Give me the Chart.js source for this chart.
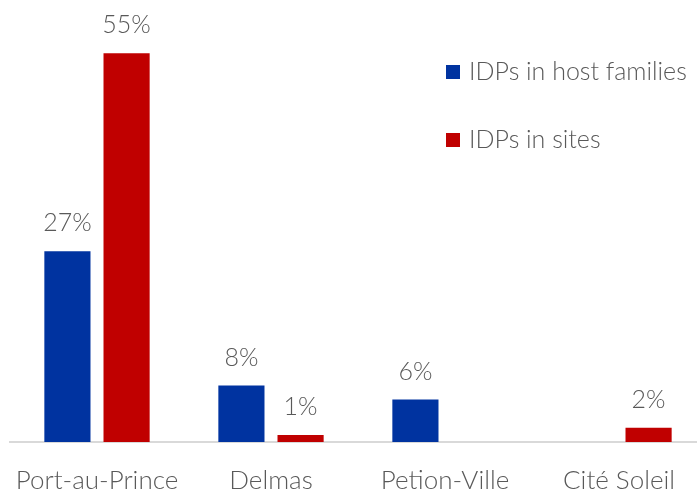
<!DOCTYPE html>
<html>
<head>
<meta charset="utf-8">
<script src="https://cdn.jsdelivr.net/npm/chart.js"></script>
<style>
  html, body { margin: 0; padding: 0; background: #fff; overflow: hidden; }
  #wrap { width: 710px; height: 497px; }
</style>
</head>
<body>
<div id="wrap"><canvas id="canvas_bar"></canvas></div>
<script>
// Data
const communes = ['Port-au-Prince', 'Delmas', 'Petion-Ville', 'Cité Soleil'];
const host_families = [27, 8, 6, null];
const sites = [55, 1, null, 2];

const fontFace = "Lato, 'Open Sans', sans-serif";
const textColor = '#595959';

// labels above the bars
const valueLabels = {
  id: 'valueLabels',
  afterDatasetsDraw(chart) {
    const ctx = chart.ctx;
    ctx.save();
    ctx.font = '300 25px ' + fontFace;
    ctx.fillStyle = textColor;
    ctx.textAlign = 'center';
    ctx.textBaseline = 'middle';
    chart.data.datasets.forEach((ds, i) => {
      chart.getDatasetMeta(i).data.forEach((bar, j) => {
        if (ds.data[j] == null) return;
        ctx.fillText(ds.data[j] + '%', bar.x, bar.y - 28);
      });
    });
    ctx.restore();
  }
};

// legend at the top right
const sideLegend = {
  id: 'sideLegend',
  afterDraw(chart) {
    const ctx = chart.ctx;
    ctx.save();
    ctx.font = '300 25px ' + fontFace;
    ctx.textBaseline = 'middle';
    chart.data.datasets.forEach((ds, i) => {
      const y = 72 + i * 68;
      ctx.fillStyle = ds.backgroundColor;
      ctx.fillRect(446, y - 7, 14, 14);
      ctx.fillStyle = textColor;
      ctx.fillText(ds.label, 469, y);
    });
    ctx.restore();
  }
};

const data_bar = {
  labels: communes,
  datasets: [
    { label: 'IDPs in host families', data: host_families, backgroundColor: '#0033a0' },
    { label: 'IDPs in sites', data: sites, backgroundColor: '#c00000' }
  ]
};

const config_bar = {
  type: 'bar',
  data: data_bar,
  options: {
    responsive: true,
    maintainAspectRatio: false,
    animation: false,
    datasets: { bar: { categoryPercentage: 0.68, barPercentage: 0.78 } },
    layout: { padding: { left: 10, right: 4, top: 18, bottom: 0 } },
    plugins: { legend: { display: false }, tooltip: { enabled: false } },
    scales: {
      x: {
        grid: { display: false, drawTicks: false },
        border: { color: '#d9d9d9', width: 2 },
        ticks: { color: textColor, font: { family: fontFace, size: 26, weight: '300' }, padding: 23 },
        afterFit(scale) {
          scale.height = 55;
          scale.paddingLeft = 0;
          scale.paddingRight = 0;
        }
      },
      y: { display: false, min: 0, max: 60 }
    }
  },
  plugins: [valueLabels, sideLegend]
};

const canvas_bar = document.getElementById('canvas_bar');
const chart_bar = new Chart(canvas_bar, config_bar);
</script>
</body>
</html>
